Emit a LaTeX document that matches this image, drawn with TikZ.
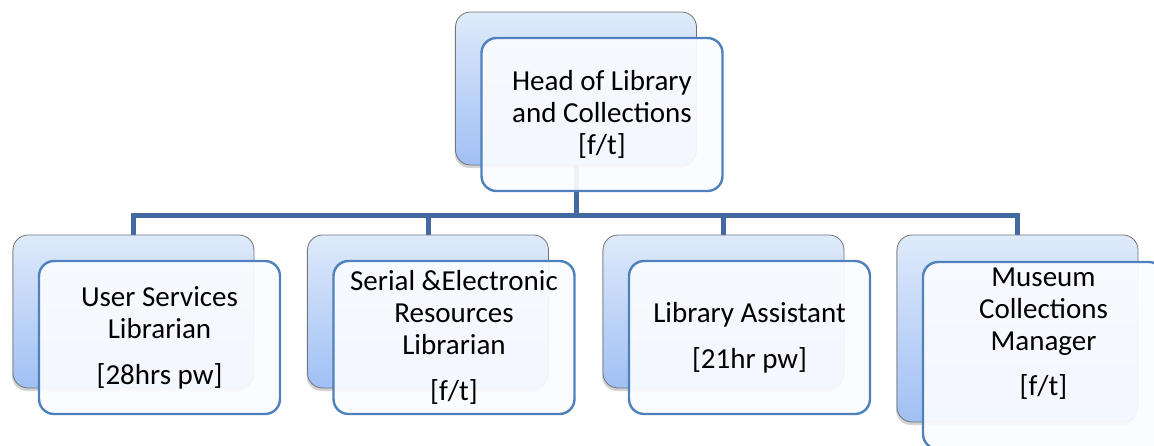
\documentclass[tikz,border=0pt]{standalone}
\usepackage{fontspec}
\setmainfont{Carlito}
\usetikzlibrary{positioning,shadows,backgrounds}
\definecolor{boxblue}{RGB}{79,129,189}
\definecolor{linkblue}{RGB}{66,106,160}
\definecolor{backtop}{RGB}{223,234,251}
\definecolor{backbot}{RGB}{160,192,244}
\definecolor{frontfill}{RGB}{250,252,255}
\tikzset{
	backbox/.style={
		rectangle,
		rounded corners=15pt,
		draw=black!55, line width=0.8pt,
		top color=backtop,
		bottom color=backbot,
		minimum width=241pt,
		minimum height=153pt,
		drop shadow={shadow xshift=-1pt, shadow yshift=-3pt, opacity=0.35}},
	frontbox/.style={
		rectangle,
		rounded corners=15pt,
		draw=boxblue, line width=2.4pt,
		fill=frontfill, fill opacity=0.93, text opacity=1,
		minimum width=241pt,
		minimum height=153pt,
		align=center,
		font=\fontsize{29}{32}\selectfont},
	link/.style={draw=linkblue, line width=5pt},
}

\begin{document}
\begin{tikzpicture}[x=1pt, y=-1pt]
\clip (0,0) rectangle (1154,445);

% top post
\node[backbox] (headB) at (576,88.5) {};
\node[frontbox, xshift=26pt, yshift=-26pt] (headF) at (headB)
	{Head of Library\\and Collections\\{[f/t]}};

% staff posts
\node[backbox] (usrB) at (133.5,311.5) {};
\node[frontbox, xshift=26pt, yshift=-26pt] (usrF) at (usrB)
	{User Services\\Librarian\\[14pt]{[28hrs pw]}};

\node[backbox] (serB) at (428,311.5) {};
\node[frontbox, xshift=26pt, yshift=-26pt] (serF) at (serB)
	{Serial \&Electronic\\Resources\\Librarian\\[14pt]{[f/t]}};

\node[backbox] (libB) at (723.5,311.5) {};
\node[frontbox, xshift=26pt, yshift=-26pt] (libF) at (libB)
	{Library Assistant\\[14pt]{[21hr pw]}};

\node[backbox, minimum height=187pt] (musB) at (1017.5,328.5) {};
\node[frontbox, minimum height=187pt, xshift=26pt, yshift=-27pt] (musF) at (musB) {};
\node[font=\fontsize{29}{32}\selectfont, align=center, yshift=22pt] (musT) at (musF)
	{Museum\\Collections\\Manager\\[13pt]{[f/t]}};

% connectors
\coordinate (bus) at (0,215);
\begin{scope}[on background layer]
\draw[link] (headB.south) -- (headB.south |- bus);
\draw[link] (usrB.north) -- (usrB.north |- bus) -- (musB.north |- bus) -- (musB.north);
\foreach \post in {serB,libB}
	\draw[link] (\post.north |- bus) -- (\post.north);
\end{scope}
\end{tikzpicture}
\end{document}
